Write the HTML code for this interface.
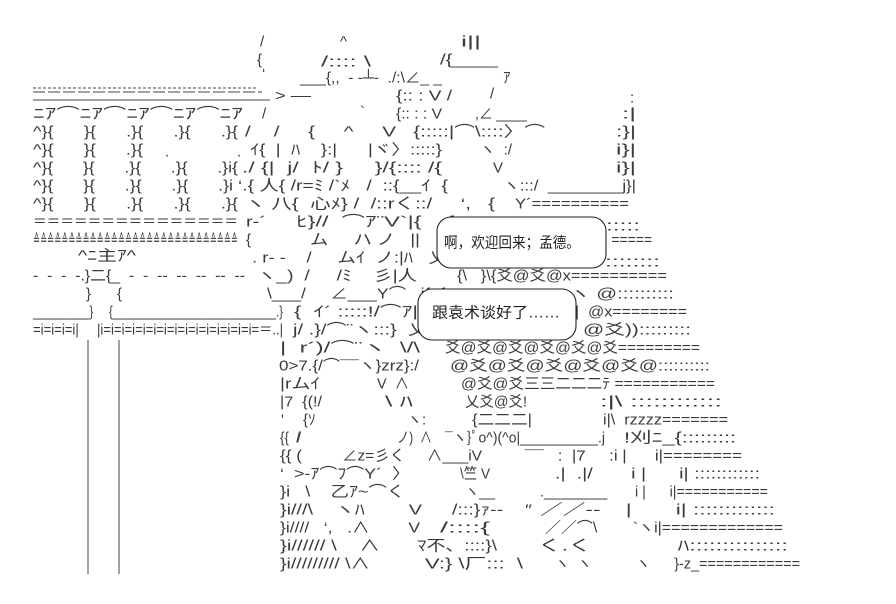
<!DOCTYPE html>
<html><head><meta charset="utf-8"><style>
html,body{margin:0;padding:0;background:#fff;}
svg{display:block}
text{font-family:"Liberation Sans","Noto Sans CJK SC",sans-serif;font-size:15px;fill:#3a3a3a;dominant-baseline:central;white-space:pre}
.t{font-size:15px;fill:#222}
</style></head><body>
<svg width="896" height="604" viewBox="0 0 896 604" xmlns="http://www.w3.org/2000/svg">
<g>
<text x="260" y="42">/</text><text x="340" y="42">^</text><text x="461" y="42" textLength="20" lengthAdjust="spacingAndGlyphs">i||</text>
<text x="257" y="60">{</text><text x="321" y="62" textLength="50" lengthAdjust="spacingAndGlyphs">/:::: \</text><text x="440" y="60" textLength="58" lengthAdjust="spacingAndGlyphs">/{____</text>
<text x="262" y="74">‘</text><text x="300" y="78" textLength="142" lengthAdjust="spacingAndGlyphs">___{,,  - -┴-  ./:\∠_ _</text><text x="503" y="78">ｱ</text>
<line x1="33" y1="88" x2="258" y2="88" stroke="#444" stroke-width="1" stroke-dasharray="3,2"/>
<line x1="33" y1="92" x2="262" y2="92" stroke="#444" stroke-width="1" stroke-dasharray="12,3"/>
<line x1="33" y1="100" x2="270" y2="100" stroke="#444" stroke-width="1"/>
<text x="275" y="96" textLength="36" lengthAdjust="spacingAndGlyphs">&gt; ‒‒</text>
<text x="396" y="96" textLength="56" lengthAdjust="spacingAndGlyphs">{:: : V /</text><text x="490" y="94">/</text><text x="630" y="98">:</text>
<text x="33" y="114" textLength="210" lengthAdjust="spacingAndGlyphs">ﾆｱ⌒ﾆｱ⌒ﾆｱ⌒ﾆｱ⌒ﾆｱ</text><text x="262" y="114">/</text><text x="360" y="112">`</text>
<text x="396" y="114" textLength="46" lengthAdjust="spacingAndGlyphs">{:: : : V</text><text x="475" y="114" textLength="52" lengthAdjust="spacingAndGlyphs">,∠ ____</text><text x="622" y="114" textLength="14" lengthAdjust="spacingAndGlyphs">:|</text>
<text x="33" y="132" textLength="205" lengthAdjust="spacingAndGlyphs">^}{      }{      .}{      .}{      .}{</text>
<text x="245" y="132" textLength="300" lengthAdjust="spacingAndGlyphs">/    /     {     ^     V   {:::::|⌒\::::〉⌒</text>
<text x="616" y="132" textLength="20" lengthAdjust="spacingAndGlyphs">:}|</text>
<text x="33" y="150" textLength="110" lengthAdjust="spacingAndGlyphs">^}{      }{      .}{</text><text x="165" y="152">.</text><text x="237" y="152">.</text>
<text x="250" y="150" textLength="192" lengthAdjust="spacingAndGlyphs">ｲ{  |  ﾊ    }:|      |ヾ〉:::::}</text><text x="480" y="150" textLength="32" lengthAdjust="spacingAndGlyphs">ヽ  :/</text><text x="616" y="150" textLength="20" lengthAdjust="spacingAndGlyphs">i}|</text>
<text x="33" y="168" textLength="205" lengthAdjust="spacingAndGlyphs">^}{      }{      .}{      .}{      .}i{</text>
<text x="242" y="168" textLength="200" lengthAdjust="spacingAndGlyphs">./ {|  j/  ﾄ/ }     }/{:::: /{</text><text x="493" y="168">V</text><text x="616" y="168" textLength="20" lengthAdjust="spacingAndGlyphs">i}|</text>
<text x="33" y="186" textLength="200" lengthAdjust="spacingAndGlyphs">^}{      }{      .}{      .}{      .}i</text>
<text x="238" y="186" textLength="210" lengthAdjust="spacingAndGlyphs">‘.{ 人{ /r=ﾐ /`ﾒ   /  ::{__ｲ  {</text>
<text x="503" y="186" textLength="133" lengthAdjust="spacingAndGlyphs">ヽ:::/  ________j}|</text>
<text x="33" y="204" textLength="205" lengthAdjust="spacingAndGlyphs">^}{      }{      .}{      .}{      .}{</text>
<text x="245" y="204" textLength="250" lengthAdjust="spacingAndGlyphs">ヽ 八{  心ﾒ} /  /::rく::/     ‘,   {</text>
<text x="515" y="204" textLength="114" lengthAdjust="spacingAndGlyphs">Y´==========</text>
<text x="33" y="222" textLength="205" lengthAdjust="spacingAndGlyphs">＝＝＝＝＝＝＝＝＝＝＝＝＝＝＝</text>
<text x="246" y="222" textLength="20" lengthAdjust="spacingAndGlyphs">r‐´</text>
<text x="296" y="222" textLength="158" lengthAdjust="spacingAndGlyphs">ﾋ}//  ⌒ｱ¨V`|{    f</text>
<text x="606" y="226" textLength="34" lengthAdjust="spacingAndGlyphs">:::::</text>
<text x="33" y="240" textLength="205" lengthAdjust="spacingAndGlyphs">≙≙≙≙≙≙≙≙≙≙≙≙≙≙≙≙≙≙≙≙≙≙≙≙≙≙≙≙≙</text>
<text x="246" y="240">{</text><text x="310" y="240" textLength="140" lengthAdjust="spacingAndGlyphs">ム     ハ ノ   ||     |</text>
<text x="600" y="240" textLength="52" lengthAdjust="spacingAndGlyphs">|  =====</text>
<text x="78" y="256" textLength="58" lengthAdjust="spacingAndGlyphs">^ﾆ主ｱ^</text>
<text x="252" y="258" textLength="195" lengthAdjust="spacingAndGlyphs">. r‐ ‐    /     ムｲ  ノ:|ﾊ   乂</text>
<text x="605" y="262" textLength="55" lengthAdjust="spacingAndGlyphs">::::::::</text>
<text x="33" y="276" textLength="212" lengthAdjust="spacingAndGlyphs">-  -  -  -.}二{_  -  -  --  --  --  --  --</text>
<text x="257" y="276" textLength="160" lengthAdjust="spacingAndGlyphs">ヽ_)  /     /ﾐ    彡|人</text>
<text x="457" y="276" textLength="210" lengthAdjust="spacingAndGlyphs">{\   }\{爻@爻@x==========</text>
<text x="86" y="294">}</text><text x="117" y="294">{</text>
<text x="267" y="294" textLength="178" lengthAdjust="spacingAndGlyphs">\___/     ∠___Y⌒   j{  f</text>
<text x="570" y="294" textLength="104" lengthAdjust="spacingAndGlyphs">ヽ @::::::::::</text>
<text x="33" y="312" textLength="250" lengthAdjust="spacingAndGlyphs">_________}     {__________________________.}</text>
<text x="294" y="312" textLength="124" lengthAdjust="spacingAndGlyphs">{  ｲ´ :::::!/⌒ｱ|</text>
<text x="575" y="312" textLength="112" lengthAdjust="spacingAndGlyphs">|  @x========</text>
<text x="33" y="330" textLength="250" lengthAdjust="spacingAndGlyphs">=i=i=i=i|     |i=i=i=i=i=i=i=i=i=i=i=i=i=i=i=＝..|</text>
<text x="293" y="330" textLength="135" lengthAdjust="spacingAndGlyphs">j/ .}/⌒¨ヽ:::}  乂</text>
<text x="583" y="330" textLength="108" lengthAdjust="spacingAndGlyphs">@爻)):::::::::</text>
<text x="280" y="348" textLength="140" lengthAdjust="spacingAndGlyphs">|  r´)/⌒¨ヽ  \/\</text>
<text x="445" y="348" textLength="255" lengthAdjust="spacingAndGlyphs">爻@爻@爻@爻@爻@爻=========</text>
<text x="279" y="366" textLength="140" lengthAdjust="spacingAndGlyphs">0&gt;7.{/⌒¯¯ヽ}zrz}:/</text>
<text x="450" y="366" textLength="260" lengthAdjust="spacingAndGlyphs">@爻@爻@爻@爻@爻@::::::::::</text>
<text x="280" y="384" textLength="40" lengthAdjust="spacingAndGlyphs">|rムｲ</text><text x="377" y="384" textLength="32" lengthAdjust="spacingAndGlyphs">V  ∧</text>
<text x="461" y="384" textLength="254" lengthAdjust="spacingAndGlyphs">@爻@爻三三二二二ﾃ ===========</text>
<text x="280" y="402" textLength="42" lengthAdjust="spacingAndGlyphs">|7  {(!/</text><text x="385" y="402" textLength="28" lengthAdjust="spacingAndGlyphs">\ ﾊ</text>
<text x="465" y="402" textLength="62" lengthAdjust="spacingAndGlyphs">乂爻@爻!</text>
<text x="600" y="402" textLength="122" lengthAdjust="spacingAndGlyphs">:|\ ::::::::::::</text>
<text x="281" y="420">'</text><text x="303" y="420">{ｿ</text><text x="407" y="420">ヽ:</text>
<text x="472" y="420" textLength="60" lengthAdjust="spacingAndGlyphs">{二二二|</text>
<text x="603" y="420" textLength="125" lengthAdjust="spacingAndGlyphs">i|\  rzzzz=======</text>
<text x="280" y="438" textLength="20" lengthAdjust="spacingAndGlyphs">{{  /</text><text x="297" y="438">/</text>
<text x="397" y="438" textLength="35" lengthAdjust="spacingAndGlyphs">ノ)  ∧</text>
<text x="445" y="438" textLength="160" lengthAdjust="spacingAndGlyphs">¯ヽ}ﾟo^)(^o|__________.j</text>
<text x="624" y="438" textLength="112" lengthAdjust="spacingAndGlyphs">!刈ﾆ_{:::::::::</text>
<text x="280" y="456" textLength="22" lengthAdjust="spacingAndGlyphs">{{ (</text>
<text x="342" y="456" textLength="140" lengthAdjust="spacingAndGlyphs">∠z=彡く     ∧___iV</text>
<text x="525" y="456" textLength="217" lengthAdjust="spacingAndGlyphs">¯¯   :  |7     :i |      i|========</text>
<text x="280" y="474" textLength="130" lengthAdjust="spacingAndGlyphs">‘  &gt;‐ｱ⌒ﾌ⌒Y´  〉</text>
<text x="460" y="474" textLength="30" lengthAdjust="spacingAndGlyphs">\竺 V</text>
<text x="555" y="474" textLength="205" lengthAdjust="spacingAndGlyphs">.|  .|/       i |      i| ::::::::::::</text>
<text x="280" y="492" textLength="125" lengthAdjust="spacingAndGlyphs">}i   \    乙ｱ~⌒く</text>
<text x="465" y="492" textLength="30" lengthAdjust="spacingAndGlyphs">ヽ__</text>
<text x="540" y="492" textLength="228" lengthAdjust="spacingAndGlyphs">.________       i |      i|===========</text>
<text x="280" y="510" textLength="142" lengthAdjust="spacingAndGlyphs">}i///\    ヽﾊ        V</text>
<text x="452" y="510" textLength="80" lengthAdjust="spacingAndGlyphs">/:::}ｧ‐‐    ″</text>
<text x="540" y="510" textLength="235" lengthAdjust="spacingAndGlyphs">／／‐‐    |       i| :::::::::::::</text>
<text x="280" y="528" textLength="140" lengthAdjust="spacingAndGlyphs">}i////   ‘,   .∧        V</text>
<text x="440" y="528" textLength="50" lengthAdjust="spacingAndGlyphs">/::::{</text>
<text x="545" y="528" textLength="238" lengthAdjust="spacingAndGlyphs">／／⌒\        `ヽi|=============</text>
<text x="280" y="546" textLength="100" lengthAdjust="spacingAndGlyphs">}i////// \    ∧</text>
<text x="417" y="546" textLength="80" lengthAdjust="spacingAndGlyphs">ﾏ不、::::}\</text>
<text x="538" y="546" textLength="250" lengthAdjust="spacingAndGlyphs">く.く             ﾊ:::::::::::::::</text>
<text x="280" y="564" textLength="90" lengthAdjust="spacingAndGlyphs">}i///////// \∧</text>
<text x="425" y="564" textLength="98" lengthAdjust="spacingAndGlyphs">V:} \厂:::  \</text>
<text x="555" y="564" textLength="245" lengthAdjust="spacingAndGlyphs">ヽ  ヽ           ヽ      }‐z_============</text>
</g>
<line x1="88" y1="340" x2="88" y2="574" stroke="#444" stroke-width="1"/>
<line x1="119" y1="340" x2="119" y2="574" stroke="#444" stroke-width="1"/>
<rect x="437" y="217" width="169" height="51" rx="14" fill="#fff" stroke="#222" stroke-width="1.1"/>
<text x="444" y="243" class="t" textLength="136" lengthAdjust="spacingAndGlyphs">啊，欢迎回来；孟德。</text>
<rect x="418" y="289" width="158" height="51" rx="14" fill="#fff" stroke="#222" stroke-width="1.1"/>
<text x="432" y="313" class="t" textLength="128" lengthAdjust="spacingAndGlyphs">跟袁术谈好了……</text>
</svg>
</body></html>
